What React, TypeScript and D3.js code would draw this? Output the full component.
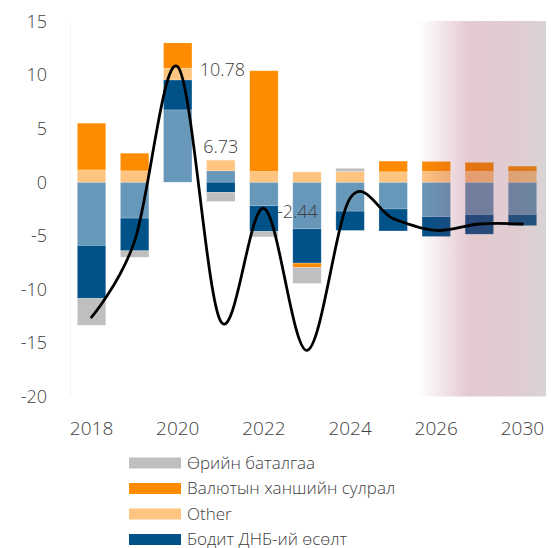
import React, { useEffect, useRef } from "react";
import * as d3 from "d3";

const years = ["2018", "2019", "2020", "2021", "2022", "2023", "2024", "2025", "2026", "2027", "2030"];
const tickYears = ["2018", "2020", "2022", "2024", "2026", "2030"];

// stacked components (% of GDP)
const primaryBal = [-5.9, -3.35, 6.75, 1.06, -2.2, -4.35, -2.7, -2.5, -3.2, -3.0, -3.0];
const gdpGrowth = [-4.95, -3.05, 2.8, -0.95, -2.4, -3.2, -1.8, -2.05, -1.87, -1.85, -1.05];
const otherVals = [1.15, 1.06, 1.1, 1.0, 1.0, 0.96, 1.0, 0.97, 1.0, 1.0, 1.0];
const fxVals = [4.36, 1.65, 2.35, 0, 9.4, -0.4, 0, 1.0, 0.94, 0.85, 0.5];
const guaranteeVals = [-2.5, -0.6, 0, -0.85, -0.5, -1.5, 0.3, 0, 0, 0, 0];

// total change line
const totalVals = [-12.6, -5.5, 10.78, -13.0, -2.44, -15.7, -1.5, -3.4, -4.5, -3.9, -3.9];

const seriesKeys = ["primary", "growth", "other", "fx", "guarantee"];
const seriesNames = ["Анхдагч тэнцэл", "Бодит ДНБ-ий өсөлт", "Other", "Валютын ханшийн сулрал", "Өрийн баталгаа"];
const seriesColors = ["#6798ba", "#02528a", "#ffc580", "#ff8c00", "#bfbfbf"];

const yTicks = [15, 10, 5, 0, -5, -10, -15, -20];

const W = 551;
const H = 548;
const FONT = "'Open Sans', 'Noto Sans', sans-serif";

const App = () => {
  const ref = useRef(null);

  useEffect(() => {
    const svg = d3.select(ref.current);
    svg.selectAll("*").remove();

    const x = d3.scaleBand().domain(years).range([70, 544]).paddingInner(0.34).paddingOuter(0.17);
    const y = d3.scaleLinear().domain([-20, 15]).range([396.5, 21.5]);

    const rows = years.map((yr, i) => ({
      year: yr,
      primary: primaryBal[i],
      growth: gdpGrowth[i],
      other: otherVals[i],
      fx: fxVals[i],
      guarantee: guaranteeVals[i],
    }));
    const stacked = d3.stack().keys(seriesKeys).offset(d3.stackOffsetDiverging)(rows);

    // title, mostly above the visible area
    svg
      .append("text")
      .attr("x", 20)
      .attr("y", -4)
      .attr("font-family", FONT)
      .attr("font-weight", 300)
      .attr("font-size", 18)
      .attr("fill", "#404040")
      .text("(ДНБ-д эзлэх хувь, жилийн өөрчлөлт)");

    // y axis line
    svg
      .append("line")
      .attr("x1", 70.5)
      .attr("x2", 70.5)
      .attr("y1", y(15))
      .attr("y2", y(-20))
      .attr("stroke", "#f2f2f2")
      .attr("stroke-width", 1);

    // y tick labels
    svg
      .append("g")
      .selectAll("text")
      .data(yTicks)
      .enter()
      .append("text")
      .attr("x", 47)
      .attr("y", (d) => y(d))
      .attr("dy", "0.35em")
      .attr("text-anchor", "end")
      .attr("font-family", FONT)
      .attr("font-weight", 300)
      .attr("font-size", 18)
      .attr("fill", "#404040")
      .text((d) => d);

    // bars
    svg
      .append("g")
      .selectAll("g")
      .data(stacked)
      .enter()
      .append("g")
      .attr("fill", (d, i) => seriesColors[i])
      .selectAll("rect")
      .data((d) => d.filter((p) => p[1] !== p[0]))
      .enter()
      .append("rect")
      .attr("x", (d) => x(d.data.year))
      .attr("width", x.bandwidth())
      .attr("y", (d) => y(Math.max(d[0], d[1])))
      .attr("height", (d) => Math.abs(y(d[0]) - y(d[1])))
      .attr("stroke", "#ffffff")
      .attr("stroke-opacity", 0.35)
      .attr("stroke-width", 0.6);

    // forecast shading
    const defs = svg.append("defs");
    const grad = defs.append("linearGradient").attr("id", "fcShade").attr("x1", "0").attr("x2", "1").attr("y1", "0").attr("y2", "0");
    grad.append("stop").attr("offset", "0").attr("stop-color", "rgb(150,40,70)").attr("stop-opacity", 0);
    grad.append("stop").attr("offset", "0.4").attr("stop-color", "rgb(150,40,70)").attr("stop-opacity", 0.25);
    grad.append("stop").attr("offset", "0.8").attr("stop-color", "rgb(135,70,85)").attr("stop-opacity", 0.27);
    grad.append("stop").attr("offset", "1").attr("stop-color", "rgb(110,95,100)").attr("stop-opacity", 0.27);
    svg
      .append("rect")
      .attr("x", 418)
      .attr("y", y(15) - 0.5)
      .attr("width", 128)
      .attr("height", y(-20) - y(15) + 0.5)
      .attr("fill", "url(#fcShade)");

    // total line
    const line = d3
      .line()
      .x((d, i) => x(years[i]) + x.bandwidth() / 2)
      .y((d) => y(d))
      .curve(d3.curveCardinal);
    svg
      .append("path")
      .datum(totalVals)
      .attr("d", line)
      .attr("fill", "none")
      .attr("stroke", "#000000")
      .attr("stroke-width", 2.8)
      .attr("stroke-linecap", "round");

    // value labels
    const cx = (yr) => x(yr) + x.bandwidth() / 2;
    const labelStyle = (sel) =>
      sel
        .attr("font-family", FONT)
        .attr("font-weight", 300)
        .attr("font-size", 18)
        .attr("fill", "#404040")
        .attr("dy", "0.35em");
    svg
      .append("text")
      .attr("x", cx("2020") + 22)
      .attr("y", y(10.78) + 3)
      .call(labelStyle)
      .text("10.78");
    const top2021 = d3.max(stacked, (s) => s[3][1]);
    svg
      .append("text")
      .attr("x", cx("2021"))
      .attr("y", y(top2021) - 13)
      .attr("text-anchor", "middle")
      .call(labelStyle)
      .text("6.73");
    svg
      .append("text")
      .attr("x", cx("2022") + 13)
      .attr("y", y(-2.44) + 3)
      .call(labelStyle)
      .text("-2.44");

    // x labels
    svg
      .append("g")
      .selectAll("text")
      .data(tickYears)
      .enter()
      .append("text")
      .attr("x", (d) => cx(d))
      .attr("y", 428)
      .attr("dy", "0.35em")
      .attr("text-anchor", "middle")
      .attr("font-family", FONT)
      .attr("font-weight", 300)
      .attr("font-size", 19)
      .attr("fill", "#404040")
      .text((d) => d);

    // legend (reverse order, last one falls below view)
    const legendOrder = [4, 3, 2, 1, 0];
    const lg = svg
      .append("g")
      .selectAll("g")
      .data(legendOrder)
      .enter()
      .append("g")
      .attr("transform", (d, i) => `translate(129,${463 + i * 25.5})`);
    lg.append("rect")
      .attr("x", 0)
      .attr("y", -5.5)
      .attr("width", 52)
      .attr("height", 11)
      .attr("fill", (d) => seriesColors[d]);
    lg.append("text")
      .attr("x", 58)
      .attr("y", 0)
      .attr("dy", "0.35em")
      .attr("font-family", FONT)
      .attr("font-weight", 300)
      .attr("font-size", 17)
      .attr("fill", "#404040")
      .text((d) => seriesNames[d]);
  }, []);

  return (
    <svg
      ref={ref}
      width={W}
      height={H}
      style={{ position: "absolute", left: 0, top: 0, background: "#ffffff", overflow: "hidden" }}
    />
  );
};

export default App;
